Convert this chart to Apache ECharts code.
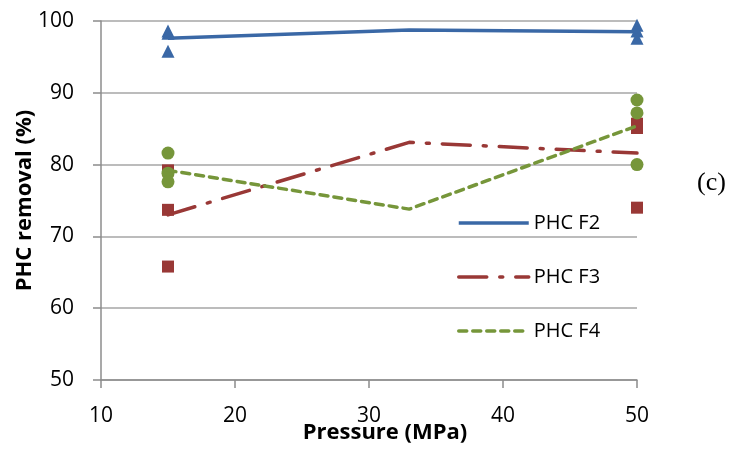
<!DOCTYPE html>
<html>
<head>
<meta charset="utf-8">
<script src="https://cdn.jsdelivr.net/npm/echarts@6/dist/echarts.min.js"></script>
<style>
html,body{margin:0;padding:0;background:#fff;}
#c{width:735px;height:449px;}
</style>
</head>
<body>
<div id="c"></div>
<script>
// Pressure points (MPa) of the mean lines
const pressures = [15, 33, 50];
// Mean PHC removal (%) per fraction
const f2Mean = [97.6, 98.75, 98.5];
const f3Mean = [73.0, 83.1, 81.6];
const f4Mean = [79.2, 73.8, 85.4];
// Replicate measurements at 15 and 50 MPa
const repPressures = [15, 15, 15, 50, 50, 50];
const f2Reps = [98.6, 98.3, 95.8, 99.4, 98.6, 97.6];
const f3Reps = [79.2, 73.7, 65.8, 85.7, 85.1, 74.0];
const f4Reps = [81.6, 78.8, 77.6, 89.0, 87.2, 80.0];
// Axis ticks
const xTicks = [10, 20, 30, 40, 50];
const yTicks = [50, 60, 70, 80, 90, 100];
const seriesNames = ['PHC F2', 'PHC F3', 'PHC F4'];

const pair = (xs, ys) => xs.map((x, i) => [x, ys[i]]);

const cBlue = '#3A68A6', cRed = '#993836', cGreen = '#76963A';
const font = "'Open Sans', sans-serif";

const chart = echarts.init(document.getElementById('c'), null, {renderer: 'canvas'});
chart.setOption({
  animation: false,
  backgroundColor: '#fff',
  grid: {left: 101, right: 98, top: 21, bottom: 69, containLabel: false, outerBoundsMode: 'none'},
  xAxis: {
    type: 'value', min: xTicks[0], max: xTicks[xTicks.length - 1], interval: 10,
    name: 'Pressure (MPa)', nameLocation: 'middle', nameGap: 42, nameMoveOverlap: false,
    nameTextStyle: {fontFamily: font, fontSize: 22, fontWeight: 'bold', color: '#000', padding: [0, 0, 0, 32]},
    axisLine: {show: true, lineStyle: {color: '#8C8C8C', width: 1.5}},
    axisTick: {show: true, length: 8, lineStyle: {color: '#8C8C8C', width: 1.5}},
    axisLabel: {fontFamily: font, fontSize: 21, color: '#000', margin: 26},
    splitLine: {show: false}
  },
  yAxis: {
    type: 'value', min: yTicks[0], max: yTicks[yTicks.length - 1], interval: 10,
    name: 'PHC removal (%)', nameLocation: 'middle', nameGap: 65, nameMoveOverlap: false,
    nameTextStyle: {fontFamily: font, fontSize: 22, fontWeight: 'bold', color: '#000'},
    axisLine: {show: true, lineStyle: {color: '#8C8C8C', width: 1.5}},
    axisTick: {show: true, length: 8, lineStyle: {color: '#8C8C8C', width: 1.5}},
    axisLabel: {fontFamily: font, fontSize: 21, color: '#000', margin: 27},
    splitLine: {show: true, lineStyle: {color: '#A6A6A6', width: 1.5}}
  },
  legend: {
    data: seriesNames,
    orient: 'vertical', left: 452, top: 208,
    itemWidth: 70, itemHeight: 20, itemGap: 34,
    textStyle: {fontFamily: font, fontSize: 20, color: '#000', lineHeight: 20},
    itemStyle: {opacity: 0},
    lineStyle: {width: 3.5}
  },
  graphic: [{
    type: 'text', left: 697, top: 170,
    style: {text: '(c)', font: "26px 'Liberation Serif', 'Times New Roman', serif", fill: '#000'}
  }],
  series: [
    {name: 'PHC F2 reps', type: 'scatter', symbol: 'triangle', symbolSize: 13,
     itemStyle: {color: cBlue, opacity: 1}, data: pair(repPressures, f2Reps), z: 3},
    {name: 'PHC F3 reps', type: 'scatter', symbol: 'rect', symbolSize: 12,
     itemStyle: {color: cRed, opacity: 1}, data: pair(repPressures, f3Reps), z: 3},
    {name: 'PHC F4 reps', type: 'scatter', symbol: 'circle', symbolSize: 13,
     itemStyle: {color: cGreen, opacity: 1}, data: pair(repPressures, f4Reps), z: 3},
    {name: 'PHC F2', type: 'line', symbol: 'none', data: pair(pressures, f2Mean),
     lineStyle: {color: cBlue, width: 3.5}, itemStyle: {color: cBlue}, z: 4},
    {name: 'PHC F3', type: 'line', symbol: 'none', data: pair(pressures, f3Mean),
     lineStyle: {color: cRed, width: 3.5, type: [28, 13, 3, 13], cap: 'round'}, itemStyle: {color: cRed}, z: 4},
    {name: 'PHC F4', type: 'line', symbol: 'none', data: pair(pressures, f4Mean),
     lineStyle: {color: cGreen, width: 3.5, type: [8, 6], cap: 'round'}, itemStyle: {color: cGreen}, z: 4}
  ]
});
</script>
</body>
</html>
